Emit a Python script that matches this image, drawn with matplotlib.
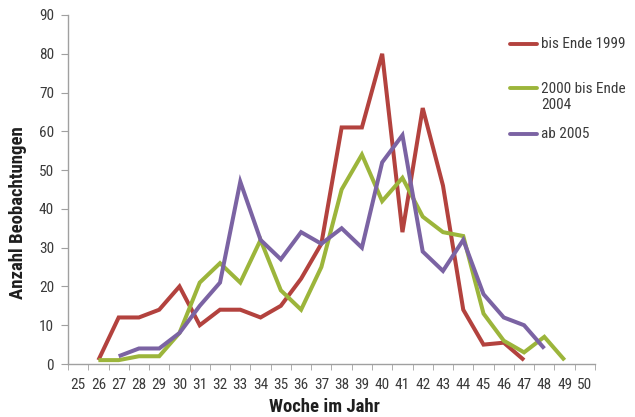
import matplotlib
matplotlib.use("Agg")
import matplotlib.pyplot as plt
import numpy as np

plt.rcParams["font.family"] = ["Roboto Condensed", "DejaVu Sans"]

weeks = list(range(25, 51))

red_weeks = list(range(26, 48))
red_vals = [1, 12, 12, 14, 20, 10, 14, 14, 12, 15, 22, 31, 61, 61, 80, 34, 66, 46, 14, 5, 5.5, 1]

green_weeks = list(range(26, 50))
green_vals = [1, 1, 2, 2, 8, 21, 26, 21, 32, 19, 14, 25, 45, 54, 42, 48, 38, 34, 33, 13, 6, 3, 7, 1]

purple_weeks = list(range(27, 49))
purple_vals = [2, 4, 4, 8, 15, 21, 47, 32, 27, 34, 31, 35, 30, 52, 59, 29, 24, 32, 18, 12, 10, 4]

series = [
    ("bis Ende 1999", red_weeks, red_vals, "#b3423e"),
    ("2000 bis Ende\n2004", green_weeks, green_vals, "#9cb53b"),
    ("ab 2005", purple_weeks, purple_vals, "#7b63a3"),
]

fig = plt.figure(figsize=(6.35, 4.17), dpi=100)
ax = fig.add_axes([68 / 635, 1 - 364 / 417, 527 / 635, 349 / 417])

for label, wk, vals, col in series:
    ax.plot(wk, vals, color=col, lw=2.9, solid_joinstyle="miter", solid_capstyle="butt")

ax.set_xlim(24.5, 50.5)
ax.set_ylim(0, 90)
ax.set_yticks(np.arange(0, 91, 10))
ax.set_xticks(weeks)
ax.set_xticks(np.arange(24.5, 51, 1), minor=True)

for s in ["top", "right"]:
    ax.spines[s].set_visible(False)
for s in ["left", "bottom"]:
    ax.spines[s].set_color("#a0a0a0")
    ax.spines[s].set_linewidth(1.0)

ax.tick_params(axis="y", direction="out", length=5, color="#a0a0a0", labelsize=11,
               labelcolor="#3a3a3a", pad=5)
ax.tick_params(axis="x", which="major", length=0, labelsize=11, labelcolor="#3a3a3a", pad=10)
ax.tick_params(axis="x", which="minor", direction="out", length=4, color="#a0a0a0")

ax.set_xlabel("Woche im Jahr", fontsize=13.5, fontweight="bold", color="#1e1e1e")
ax.xaxis.set_label_coords(0.487, -0.097)
ax.set_ylabel("Anzahl Beobachtungen", fontsize=13.5, fontweight="bold", color="#1e1e1e")
ax.yaxis.set_label_coords(-0.078, 0.433)

# legend drawn by hand, line sits on the first text line
leg_y = [0.917, 0.791, 0.659]
for (label, wk, vals, col), y in zip(series, leg_y):
    ax.plot([0.839, 0.889], [y, y], color=col, lw=2.8, transform=ax.transAxes,
            clip_on=False, solid_capstyle="round")
    n_lines = label.count("\n") + 1
    ax.text(0.898, y - (n_lines - 1) * 0.026, label, transform=ax.transAxes,
            va="center", ha="left", fontsize=11, color="#3a3a3a", linespacing=1.2)

fig.savefig("out.png", dpi=100, facecolor="white")
